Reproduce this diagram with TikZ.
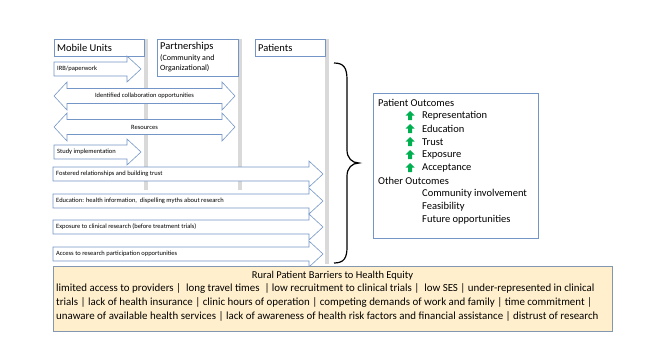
\documentclass[tikz,border=0pt]{standalone}
\usepackage{fontspec}
\setmainfont{Carlito}
\usetikzlibrary{positioning, calc}
\definecolor{arrowblue}{RGB}{116,150,198}
\definecolor{shadowgray}{RGB}{217,217,217}
\definecolor{barrierfill}{RGB}{255,239,204}
\definecolor{boxedge}{RGB}{132,151,176}
\definecolor{upgreen}{RGB}{0,176,80}
\tikzset{
  block arrow/.style={
    draw=arrowblue,
    fill=white,
    line width=0.6pt,
    line join=miter
  },
  arrow text/.style={
    font=\fontsize{6.5}{7.5}\selectfont,
    inner sep=0pt
  },
  header box/.style={
    draw=arrowblue,
    fill=white,
    line width=0.6pt
  },
  header text/.style={
    font=\fontsize{10.5}{12}\selectfont,
    inner sep=0pt,
    anchor=west
  },
  sub text/.style={
    font=\fontsize{8}{10}\selectfont,
    inner sep=0pt,
    align=left
  },
  shadow bar/.style={
    fill=shadowgray
  },
  outcome text/.style={
    font=\fontsize{10.5}{13}\selectfont,
    inner sep=0pt,
    anchor=west
  },
  up mark/.style={
    fill=upgreen
  }
}
% right block arrow: name, left x, tip x, centre y, text
\newcommand{\rightblock}[5]{%
  \draw[block arrow] (#2,#4-7) -- (#3-14,#4-7) -- (#3-14,#4-13) -- (#3,#4)
    -- (#3-14,#4+13) -- (#3-14,#4+7) -- (#2,#4+7) -- cycle;
  \node[arrow text, anchor=west] (#1) at (#2+3,#4) {#5};
}
% double block arrow: name, left tip, right tip, centre y, text
\newcommand{\doubleblock}[5]{%
  \draw[block arrow] (#2,#4) -- (#2+13,#4-14) -- (#2+13,#4-7.5) -- (#3-13,#4-7.5)
    -- (#3-13,#4-14) -- (#3,#4) -- (#3-13,#4+14) -- (#3-13,#4+7.5)
    -- (#2+13,#4+7.5) -- (#2+13,#4+14) -- cycle;
  \node[arrow text] (#1) at ({(#2+#3)/2},#4) {#5};
}

\begin{document}
\begin{tikzpicture}[x=1pt, y=-1pt]
  \useasboundingbox (0,0) rectangle (647,348);

  % columns with their grey shadows
  \fill[shadow bar] (144,39) rectangle (148,190);
  \fill[shadow bar] (238,39) rectangle (242,190);
  \fill[shadow bar] (325,39) rectangle (329,264);
  \draw[header box] (54,39) rectangle (144,56);
  \draw[header box] (157,39) rectangle (238,76);
  \draw[header box] (255,39) rectangle (325,56);
  \node[header text] (mobile) at (57,47.5) {Mobile Units};
  \node[header text] (partners) at (160,47) {Partnerships};
  \node[sub text, anchor=north west] (partnerssub) at (160,54) {(Community and\\Organizational)};
  \node[header text] (patients) at (258,47.5) {Patients};

  % block arrows
  \rightblock{irb}{54}{141}{69}{IRB/paperwork}
  \doubleblock{collab}{54}{235}{96}{Identified collaboration opportunities}
  \doubleblock{resources}{54}{235}{127}{Resources}
  \rightblock{study}{54}{141}{152}{Study implementation}
  \rightblock{trust}{53}{323}{174}{Fostered relationships and building trust}
  \rightblock{education}{53}{323}{201}{Education: health information,\ \ dispelling myths about research}
  \rightblock{exposure}{53}{323}{227}{Exposure to clinical research (before treatment trials)}
  \rightblock{access}{53}{323}{254}{Access to research participation opportunities}

  % brace
  \draw[line width=1.2pt] (334,63) .. controls (344,63) and (347,68) .. (347,80)
    -- (347,150) .. controls (347,158) and (352,163) .. (359,163)
    .. controls (352,163) and (347,168) .. (347,176)
    -- (347,247) .. controls (347,258) and (344,263) .. (334,263);

  % outcomes
  \draw[draw=arrowblue, line width=0.6pt] (373,93) rectangle (538,238);
  \node[outcome text] (patientout) at (378,103) {Patient Outcomes};
  \foreach \name/\item [count=\i] in {rep/Representation, edu/Education,
      tru/Trust, exp/Exposure, acc/Acceptance} {
    \fill[up mark] (410,{103+13*\i-5}) -- (414.5,{103+13*\i-0.5}) -- (412,{103+13*\i-0.5})
      -- (412,{103+13*\i+4}) -- (408,{103+13*\i+4}) -- (408,{103+13*\i-0.5})
      -- (405.5,{103+13*\i-0.5}) -- cycle;
    \node[outcome text] (\name) at (422,{103+13*\i}) {\item};
  }
  \node[outcome text] (otherout) at (378,181) {Other Outcomes};
  \node[outcome text] (community) at (422,194) {Community involvement};
  \node[outcome text] (feasible) at (422,207) {Feasibility};
  \node[outcome text] (future) at (422,220) {Future opportunities};

  % barriers
  \draw[draw=boxedge, fill=barrierfill, line width=0.6pt] (53,266) rectangle (612,331);
  \node[font=\fontsize{10.5}{12}\selectfont, inner sep=0pt] (barriertitle) at (332.5,276)
    {Rural Patient Barriers to Health Equity};
  \node[font=\fontsize{10.9}{14}\selectfont, inner sep=0pt, align=left, anchor=north west]
    (barrierlist) at (56,283)
    {limited access to providers |\ \ long travel times\ \ | low recruitment to clinical trials |\ \ low SES | under-represented in clinical\\
     trials | lack of health insurance | clinic hours of operation | competing demands of work and family | time commitment |\\
     unaware of available health services | lack of awareness of health risk factors and financial assistance | distrust of research};
\end{tikzpicture}
\end{document}
